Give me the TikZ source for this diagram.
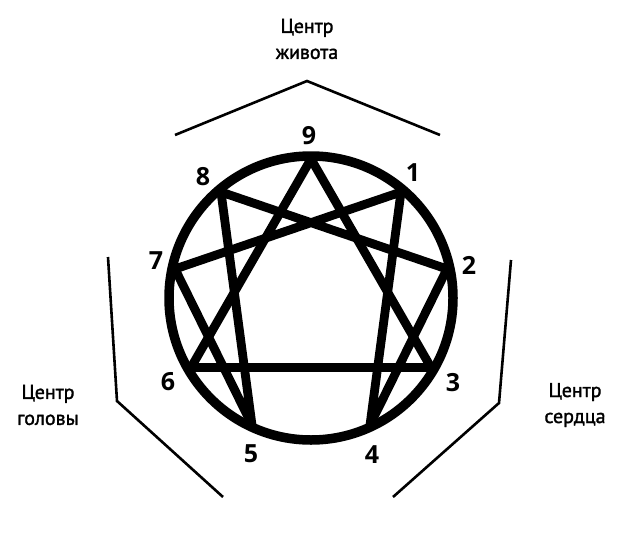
\documentclass[tikz,border=0pt]{standalone}
\usepackage{fontspec}
\setmainfont{Open Sans}
\newfontfamily\lblfont[FakeBold=1.6]{PT Sans}
\begin{document}
\begin{tikzpicture}[x=1pt,y=-1pt,
  star/.style={line width=8.8pt,line join=miter,miter limit=20},
  ring/.style={line width=9.5pt},
  bracket/.style={line width=2.6pt,line join=miter},
  num/.style={font=\fontsize{25}{25}\selectfont\bfseries,inner sep=0pt},
  lbl/.style={font=\lblfont\fontsize{20}{26}\selectfont,align=center,inner sep=0pt}]
\useasboundingbox (0,0) rectangle (620,532);
\coordinate (c) at (311,298);
\coordinate (p9) at (311,159);
\coordinate (p1) at (401,192);
\coordinate (p8) at (221,192);
\coordinate (p2) at (447,269);
\coordinate (p7) at (175,269);
\coordinate (p3) at (431,367.5);
\coordinate (p6) at (191,367.5);
\coordinate (p4) at (370,425);
\coordinate (p5) at (252,425);
\begin{scope}
\clip (c) circle[radius=142];
\draw[star] (p9) -- (p3) -- (p6) -- cycle;
\draw[star] (p1) -- (p4) -- (p2) -- (p8) -- (p5) -- (p7) -- cycle;
\end{scope}
\draw[ring] (c) circle[radius=142];
\node[num] (n9) at (309,136) {9};
\node[num] (n1) at (413,173) {1};
\node[num] (n2) at (469,265) {2};
\node[num] (n3) at (453,383) {3};
\node[num] (n4) at (372,455) {4};
\node[num] (n5) at (251,454) {5};
\node[num] (n6) at (168,382) {6};
\node[num] (n7) at (156,261) {7};
\node[num] (n8) at (203,177) {8};
\coordinate (t1) at (175,135);
\coordinate (t2) at (307,81);
\coordinate (t3) at (440,135);
\coordinate (l1) at (108,257);
\coordinate (l2) at (117,401);
\coordinate (l3) at (223,497);
\coordinate (r1) at (511,260);
\coordinate (r2) at (499,403);
\coordinate (r3) at (393,497);
\draw[bracket] (t1) -- (t2) -- (t3);
\draw[bracket] (l1) -- (l2) -- (l3);
\draw[bracket] (r1) -- (r2) -- (r3);
\node[lbl] (top) at (307,39) {Центр\\живота};
\node[lbl] (left) at (48,405) {Центр\\головы};
\node[lbl] (right) at (575,405) {Центр\\сердца};
\end{tikzpicture}
\end{document}
